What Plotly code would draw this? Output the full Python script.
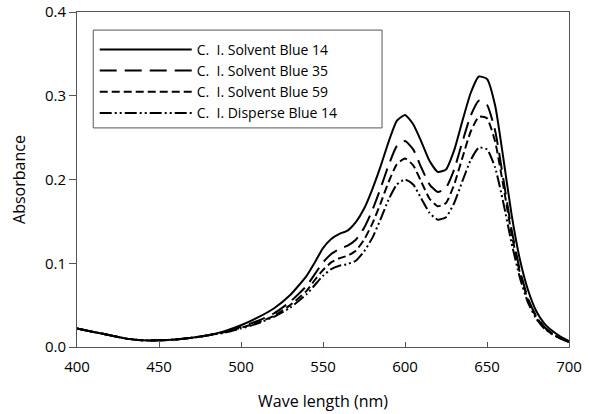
import plotly.graph_objects as go

wavelength = [400, 410, 420, 430, 440, 450, 460, 470, 480, 490, 500, 510, 520, 530, 540,
              545, 550, 555, 560, 565, 570, 575, 580, 585, 590, 595, 600, 605, 610, 615,
              620, 625, 630, 635, 640, 645, 650, 655, 660, 665, 670, 675, 680, 685, 690,
              695, 700]

solvent_blue_14 = [0.022, 0.018, 0.014, 0.010, 0.008, 0.008, 0.009, 0.011, 0.014, 0.019, 0.026,
                   0.035, 0.046, 0.062, 0.085, 0.101, 0.118, 0.129, 0.135, 0.139, 0.149, 0.165,
                   0.188, 0.215, 0.245, 0.270, 0.277, 0.266, 0.245, 0.222, 0.209, 0.212, 0.235,
                   0.270, 0.303, 0.323, 0.320, 0.288, 0.225, 0.158, 0.105, 0.068, 0.043, 0.028,
                   0.019, 0.012, 0.007]

solvent_blue_35 = [0.022, 0.018, 0.014, 0.010, 0.008, 0.008, 0.009, 0.011, 0.014, 0.018, 0.024,
                   0.031, 0.040, 0.054, 0.073, 0.087, 0.101, 0.111, 0.117, 0.121, 0.128, 0.142,
                   0.163, 0.189, 0.217, 0.240, 0.246, 0.236, 0.214, 0.194, 0.185, 0.190, 0.212,
                   0.245, 0.276, 0.294, 0.289, 0.258, 0.200, 0.140, 0.092, 0.058, 0.037, 0.024,
                   0.016, 0.010, 0.006]

solvent_blue_59 = [0.022, 0.018, 0.014, 0.010, 0.008, 0.008, 0.009, 0.011, 0.014, 0.018, 0.023,
                   0.029, 0.037, 0.050, 0.067, 0.080, 0.092, 0.101, 0.106, 0.109, 0.115, 0.128,
                   0.147, 0.171, 0.197, 0.218, 0.225, 0.217, 0.197, 0.177, 0.168, 0.172, 0.194,
                   0.226, 0.257, 0.275, 0.273, 0.245, 0.192, 0.135, 0.089, 0.056, 0.036, 0.023,
                   0.015, 0.010, 0.006]

disperse_blue_14 = [0.022, 0.018, 0.014, 0.010, 0.008, 0.008, 0.009, 0.011, 0.014, 0.017, 0.022,
                    0.028, 0.036, 0.047, 0.063, 0.074, 0.085, 0.093, 0.097, 0.099, 0.103, 0.114,
                    0.130, 0.152, 0.176, 0.194, 0.200, 0.194, 0.177, 0.160, 0.152, 0.155, 0.172,
                    0.198, 0.223, 0.238, 0.236, 0.214, 0.172, 0.124, 0.083, 0.053, 0.034, 0.022,
                    0.015, 0.010, 0.006]

series_names = ["C.  I. Solvent Blue 14", "C.  I. Solvent Blue 35",
                "C.  I. Solvent Blue 59", "C.  I. Disperse Blue 14"]
series_values = [solvent_blue_14, solvent_blue_35, solvent_blue_59, disperse_blue_14]
dash_styles = ["solid", "17px,8px", "8px,4px", "12px,3px,2px,3px,2px,3px"]

x_ticks = [400, 450, 500, 550, 600, 650, 700]
y_ticks = [0.0, 0.1, 0.2, 0.3, 0.4]

FONT = "Open Sans"

fig = go.Figure()
for name, vals, dash in zip(series_names, series_values, dash_styles):
    fig.add_trace(go.Scatter(
        x=wavelength, y=vals, mode="lines", name=name,
        line=dict(color="black", width=2, dash=dash, shape="spline", smoothing=0.5),
    ))

fig.update_layout(
    width=589, height=414,
    margin=dict(l=77, r=20, t=12, b=67),
    paper_bgcolor="white", plot_bgcolor="white",
    font=dict(family=FONT, color="black", size=15),
    showlegend=True,
    legend=dict(
        x=0.036, y=0.935, xanchor="left", yanchor="top",
        bgcolor="rgba(0,0,0,0)", borderwidth=0,
        font=dict(family=FONT, size=14, color="black"),
        itemwidth=92, tracegroupgap=0,
    ),
    shapes=[dict(
        type="rect", xref="paper", yref="paper",
        x0=0.033, x1=0.62, y0=0.654, y1=0.946,
        line=dict(color="#555555", width=1), fillcolor="rgba(0,0,0,0)", layer="below",
    )],
)
fig.update_xaxes(
    range=[400, 700], tickvals=x_ticks, ticktext=[str(v) for v in x_ticks],
    ticks="inside", ticklen=5, tickcolor="#555555",
    showline=True, linecolor="#555555", linewidth=1, mirror=True,
    showgrid=False, zeroline=False, automargin=False,
    ticklabelstandoff=6, ticklabeloverflow="allow",
    title=dict(text="Wave length (nm)", font=dict(size=16), standoff=20),
    tickfont=dict(size=15),
)
fig.update_yaxes(
    range=[0, 0.4], tickvals=y_ticks, ticktext=[f"{v:.1f}" for v in y_ticks],
    ticks="outside", ticklen=7, tickcolor="#555555",
    showline=True, linecolor="#555555", linewidth=1, mirror=True,
    showgrid=False, zeroline=False, automargin=False,
    ticklabeloverflow="allow",
    title=dict(text="Absorbance", font=dict(size=16), standoff=15),
    tickfont=dict(size=15),
)

# remove the page's default 8px body margin so the figure fills the window exactly
fig.write_html("out.html", config={"displayModeBar": False},
               post_script="document.body.style.margin='0';")
